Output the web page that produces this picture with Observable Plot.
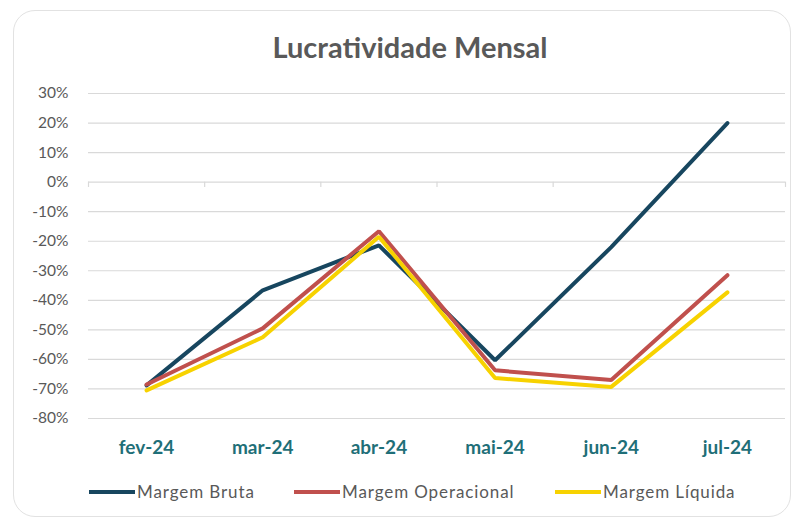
<!DOCTYPE html>
<html><head><meta charset="utf-8">
<script src="https://cdn.jsdelivr.net/npm/d3@7"></script>
<script src="https://cdn.jsdelivr.net/npm/@observablehq/plot@0.6"></script>
<style>
body{margin:0;background:#fff;width:793px;height:519px;overflow:hidden;font-family:Lato,"Open Sans",sans-serif;}
#box{position:absolute;left:13px;top:10px;width:776px;height:505px;border:1.5px solid #e2e2e2;border-radius:22px;}
#title{position:absolute;left:0;width:820px;top:29px;text-align:center;font-weight:700;font-size:29px;color:#595959;}
#chart{position:absolute;left:0;top:70px;}
.leg{position:absolute;top:481px;font-size:17px;letter-spacing:0.9px;color:#595959;display:flex;align-items:center;}
.sw{display:inline-block;width:46px;height:4px;margin-right:2px;}
</style></head><body>
<div id="box"></div>
<div id="title">Lucratividade Mensal</div>
<div id="chart"></div>
<div id="legend"></div>
<script>
const months = ["fev-24","mar-24","abr-24","mai-24","jun-24","jul-24"];
const margemBruta = [-68.8, -36.6, -21.4, -60.3, -22.0, 20.0];
const margemOperacional = [-68.5, -49.5, -16.6, -63.7, -67.0, -31.5];
const margemLiquida = [-70.5, -52.5, -18.5, -66.3, -69.3, -37.3];
const seriesNames = ["Margem Bruta","Margem Operacional","Margem Líquida"];
const seriesColors = ["#17465f","#c0504d","#f7d200"];
const yTicks = [30,20,10,0,-10,-20,-30,-40,-50,-60,-70,-80];

const data = [];
[margemBruta, margemOperacional, margemLiquida].forEach((arr, s) => {
  arr.forEach((v, i) => data.push({series: seriesNames[s], i: i + 0.5, month: months[i], v}));
});
const boundaries = d3.range(months.length + 1);

const plot = Plot.plot({
  width: 793, height: 400,
  marginLeft: 88, marginRight: 8, marginTop: 23, marginBottom: 52,
  style: {fontFamily: "Lato, sans-serif", background: "transparent", overflow: "visible"},
  x: {domain: [0, months.length], axis: null, label: null},
  y: {domain: [-80, 30], axis: null, label: null},
  color: {domain: seriesNames, range: seriesColors},
  marks: [
    Plot.ruleY(yTicks, {stroke: "#d9d9d9", strokeWidth: 1.2}),
    Plot.ruleX(boundaries, {y1: 0, y2: -1.8, stroke: "#d9d9d9", strokeWidth: 1.2}),
    Plot.axisY({ticks: yTicks, label: null, tickSize: 0, tickPadding: 20, tickFormat: d => d + "%", fontSize: 15.5, fill: "#595959"}),
    Plot.axisX({ticks: months.map((m, i) => i + 0.5), label: null, tickFormat: (d, k) => months[k], tickSize: 0, tickPadding: 22, fontSize: 19, fontWeight: 700, fill: "#1f6f78", anchor: "bottom"}),
    Plot.line(data, {x: "i", y: "v", z: "series", stroke: "series", strokeWidth: 4, strokeLinejoin: "miter", strokeLinecap: "round"})
  ]
});
document.getElementById("chart").appendChild(plot);

const legX = [89, 294, 555];
const leg = document.getElementById("legend");
seriesNames.forEach((n, k) => {
  const d = document.createElement("div");
  d.className = "leg";
  d.style.left = legX[k] + "px";
  d.innerHTML = `<span class="sw" style="background:${seriesColors[k]}"></span><span>${n}</span>`;
  leg.appendChild(d);
});
</script>
</body></html>
